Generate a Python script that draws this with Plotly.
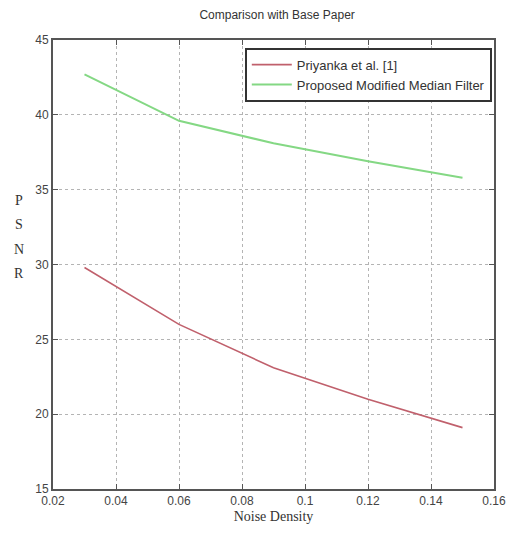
import plotly.graph_objects as go

noise_density = [0.03, 0.06, 0.09, 0.12, 0.15]
psnr_priyanka = [29.8, 26.0, 23.1, 21.0, 19.1]
psnr_proposed = [42.7, 39.6, 38.1, 36.9, 35.8]
series_names = ["Priyanka et al. [1]", "Proposed Modified Median Filter"]
x_ticks = [0.02, 0.04, 0.06, 0.08, 0.1, 0.12, 0.14, 0.16]
x_tick_labels = ["0.02", "0.04", "0.06", "0.08", "0.1", "0.12", "0.14", "0.16"]
y_ticks = [15, 20, 25, 30, 35, 40, 45]
ylabel_letters = ["P", "S", "N", "R"]

sans = "Liberation Sans, Arial, sans-serif"
serif = "Liberation Serif, Times New Roman, serif"

fig = go.Figure()
fig.add_trace(go.Scatter(x=noise_density, y=psnr_priyanka, mode="lines",
                         name=series_names[0], line=dict(color="#c0606c", width=1.6)))
fig.add_trace(go.Scatter(x=noise_density, y=psnr_proposed, mode="lines",
                         name=series_names[1], line=dict(color="#84d884", width=2)))

axis_common = dict(showline=True, linecolor="#555555", linewidth=2, mirror="ticks",
                   ticks="inside", ticklen=5, tickcolor="#555555",
                   showgrid=True, gridcolor="#b4b4b4", griddash="dot", gridwidth=1,
                   zeroline=False, tickfont=dict(family=sans, size=12, color="#444444"))

fig.update_xaxes(range=[0.02, 0.16], tickvals=x_ticks, ticktext=x_tick_labels,
                 title=dict(text="Noise Density", font=dict(family=serif, size=14, color="#333333"),
                            standoff=4), **axis_common)
fig.update_yaxes(range=[15, 45], tickvals=y_ticks, **axis_common)

for i, letter in enumerate(ylabel_letters):
    fig.add_annotation(text=letter, xref="paper", yref="paper", x=-0.078, y=0.642 - i * 0.054,
                       showarrow=False, xanchor="center", yanchor="middle",
                       font=dict(family=serif, size=14, color="#333333"))

fig.update_layout(
    width=518, height=542,
    margin=dict(l=53, r=16, t=40, b=53),
    paper_bgcolor="white", plot_bgcolor="white",
    title=dict(text="Comparison with Base Paper", x=0.535, xanchor="center", y=0.972, yanchor="middle",
               font=dict(family=sans, size=12, color="#333333")),
    legend=dict(x=0.995, y=0.983, xanchor="right", yanchor="top",
                bordercolor="#333333", borderwidth=2, bgcolor="white",
                font=dict(family=sans, size=13, color="#333333"),
                tracegroupgap=0, itemwidth=40),
    showlegend=True,
)

fig.write_html("out.html", config={"displayModeBar": False},
               post_script="document.body.style.margin='0';")
